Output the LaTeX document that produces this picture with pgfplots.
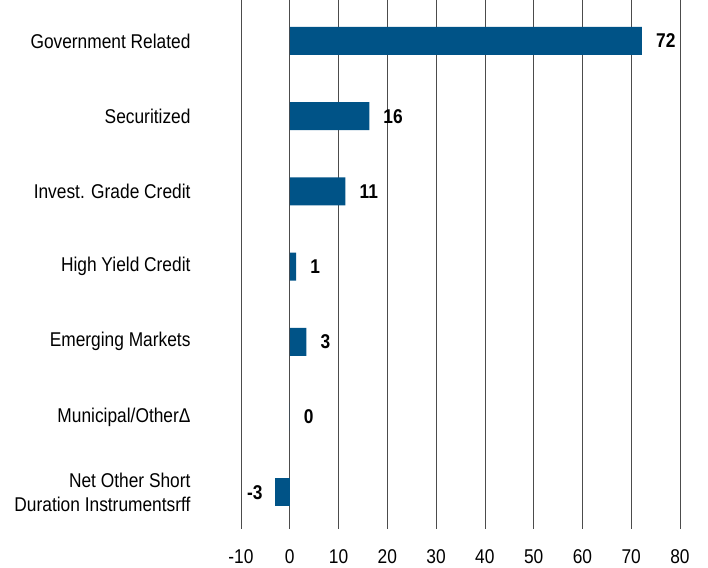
\documentclass[border=0pt]{standalone}
\usepackage{pgfplots}
\pgfplotsset{compat=1.18}
\usepackage{fontspec}
\setmainfont{Liberation Sans}[FakeStretch=0.87]
\definecolor{barblue}{RGB}{0,83,135}
\begin{document}
\begin{tikzpicture}
\useasboundingbox (-241bp,-39bp) rectangle (467bp,529bp);
\begin{axis}[
  at={(0,0)}, anchor=south west,
  scale only axis, width=439bp, height=529bp,
  xmin=-10, xmax=80, ymin=-0.545, ymax=6.49, y dir=reverse,
  xtick={-10,0,10,20,30,40,50,60,70,80},
  xticklabels={-10,0,10,20,30,40,50,60,70,80},
  ytick={0,1,2,3,4,5,6},
  yticklabels={Government Related, Securitized, Invest. Grade Credit, High Yield Credit, Emerging Markets, Municipal/OtherΔ, {Net Other Short\\Duration Instrumentsrff}},
  xmajorgrids, grid style={black!70, line width=0.6pt},
  axis line style={draw=none}, major tick length=0,
  tick label style={font=\fontsize{20}{24.5}\selectfont},
  yticklabel style={align=right, xshift=-47bp},
  xticklabel style={yshift=-17bp},
  xbar, bar width=28bp, bar shift=0pt,
  nodes near coords, point meta=explicit symbolic,
]
\addplot[fill=barblue, draw=none,
  every node near coord/.append style={font=\bfseries\fontsize{20}{24}\selectfont, anchor=west, inner xsep=14bp, text=black}] table[meta=lab] {
x y lab
72.2 0 72
16.3 1 16
11.4 2 11
1.3 3 1
3.4 4 3
0 5 0
};
\addplot[fill=barblue, draw=none,
  every node near coord/.append style={font=\bfseries\fontsize{20}{24}\selectfont, anchor=east, inner xsep=12bp, text=black}] table[meta=lab] {
x y lab
-3.1 6 -3
};
\end{axis}
\end{tikzpicture}
\end{document}
